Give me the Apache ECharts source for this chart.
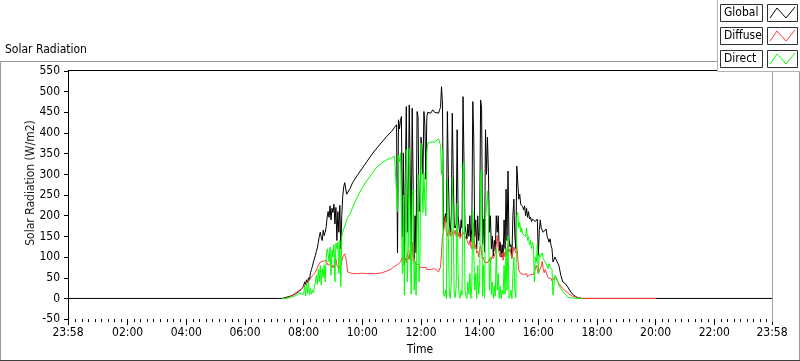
<!DOCTYPE html>
<html lang="en">
<head>
    <meta charset="UTF-8">
    <title>Solar Radiation</title>
    <script src="https://cdn.jsdelivr.net/npm/echarts@6/dist/echarts.min.js"></script>
    <style>
        html, body { margin: 0; padding: 0; background: #fff; }
        #chart { width: 800px; height: 361px; }
    </style>
</head>
<body>
<div id="chart"></div>
<script>
    // minutes after midnight (-2 is 23:58 of the day before)
    var times = [
        -2, 430, 436, 442, 448, 454, 460, 466, 472, 476,
        480, 482, 484, 486, 488, 490, 492, 494, 496, 498,
        500, 504, 506, 508, 510, 512, 514, 516, 518, 520,
        522, 524, 526, 528, 530, 532, 534, 536, 538, 540,
        542, 544, 546, 548, 550, 552, 554, 556, 558, 560,
        562, 564, 566, 568, 570, 575, 580, 590, 600, 610,
        620, 630, 640, 650, 660, 666, 670, 672, 674, 676,
        678, 680, 682, 684, 686, 688, 690, 692, 694, 696,
        698, 700, 702, 704, 706, 708, 710, 712, 714, 716,
        718, 720, 722, 724, 726, 728, 730, 732, 734, 736,
        740, 744, 748, 752, 756, 758, 760, 762, 764, 766,
        768, 770, 772, 774, 776, 778, 780, 782, 784, 786,
        788, 790, 792, 794, 796, 798, 800, 802, 804, 806,
        808, 810, 812, 814, 816, 818, 820, 822, 824, 826,
        828, 830, 832, 834, 836, 838, 840, 842, 844, 846,
        848, 850, 852, 854, 856, 858, 860, 862, 864, 866,
        868, 870, 872, 874, 876, 878, 880, 882, 884, 886,
        888, 890, 892, 894, 896, 898, 900, 902, 904, 906,
        908, 910, 912, 914, 916, 918, 920, 922, 924, 926,
        928, 930, 932, 934, 936, 938, 940, 942, 944, 946,
        948, 950, 952, 954, 956, 958, 960, 962, 964, 966,
        968, 970, 972, 974, 976, 978, 980, 982, 984, 986,
        988, 990, 994, 998, 1002, 1006, 1010, 1015, 1020, 1025,
        1030, 1036, 1042, 1050, 1100, 1150, 1200, 1438
    ];
    var globalRad = [
        0, 0, 0, 2, 4, 6, 9, 13, 18, 24,
        30, 40, 34, 45, 38, 50, 44, 62, 70, 78,
        88, 104, 114, 122, 135, 150, 160, 148, 140, 165,
        152, 160, 172, 195, 210, 196, 224, 190, 218, 208,
        228, 180, 220, 140, 210, 160, 225, 120, 200, 248,
        270, 280, 276, 252, 256, 266, 280, 298, 315, 332,
        349, 364, 378, 392, 404, 414, 420, 110, 432, 410,
        430, 440, 150, 352, 80, 300, 464, 160, 250, 468,
        300, 120, 460, 456, 96, 200, 110, 452, 440, 210,
        224, 390, 368, 300, 452, 420, 288, 440, 450, 452,
        448, 456, 450, 452, 448, 456, 462, 512, 470, 165,
        190, 205, 184, 452, 300, 184, 160, 200, 448, 300,
        176, 170, 180, 408, 200, 170, 150, 190, 170, 488,
        492, 176, 160, 144, 180, 150, 200, 136, 170, 476,
        388, 150, 190, 120, 200, 140, 160, 480, 460, 130,
        192, 112, 408, 300, 390, 304, 160, 200, 120, 151,
        103, 140, 115, 200, 160, 200, 115, 136, 100, 130,
        100, 190, 120, 264, 140, 308, 144, 125, 130, 100,
        200, 240, 150, 120, 320, 324, 240, 252, 228, 230,
        222, 214, 224, 200, 218, 196, 210, 192, 197, 186,
        192, 190, 192, 186, 190, 192, 104, 164, 190, 170,
        168, 160, 164, 164, 168, 150, 144, 136, 144, 128,
        120, 88, 100, 100, 80, 56, 40, 36, 28, 18,
        10, 5, 1, 0, 0, 0, 0, 0
    ];
    var diffuseRad = [
        null, null, 0, 0, 2, 6, 10, 15, 20, 24,
        28, 30, 32, 36, 38, 42, 44, 48, 52, 55,
        58, 64, 68, 74, 80, 84, 88, 86, 88, 90,
        88, 90, 92, 88, 80, 84, 78, 86, 82, 74,
        80, 88, 96, 80, 76, 72, 74, 80, 84, 100,
        104, 108, 100, 84, 64, 62, 60, 60, 61, 60,
        60, 60, 62, 66, 72, 78, 80, 82, 84, 86,
        88, 90, 100, 96, 92, 98, 86, 110, 100, 94,
        120, 110, 136, 90, 96, 84, 80, 88, 82, 80,
        76, 78, 72, 74, 70, 72, 76, 70, 70, 68,
        70, 70, 72, 70, 64, 64, 76, 110, 150, 160,
        180, 196, 160, 150, 165, 160, 150, 168, 160, 150,
        158, 165, 150, 170, 150, 160, 145, 155, 150, 160,
        158, 150, 145, 140, 136, 130, 140, 125, 120, 184,
        170, 120, 130, 110, 115, 100, 120, 128, 110, 95,
        100, 88, 92, 88, 86, 90, 95, 88, 92, 104,
        96, 100, 110, 130, 152, 120, 110, 100, 96, 110,
        92, 112, 100, 120, 104, 130, 112, 120, 108, 96,
        110, 124, 116, 110, 128, 126, 68, 64, 60, 58,
        56, 58, 54, 56, 60, 52, 54, 56, 58, 55,
        60, 58, 64, 62, 80, 70, 60, 66, 62, 78,
        90, 72, 62, 70, 64, 60, 50, 54, 50, 48,
        42, 40, 52, 44, 36, 30, 24, 18, 14, 9,
        5, 3, 1, 0, 0, 0, 0, null
    ];
    var directRad = [
        null, null, 0, 0, 1, 3, 5, 8, 12, 16,
        10, 30, 6, 36, 12, 40, 8, 24, 10, 20,
        14, 40, 56, 34, 70, 40, 80, 32, 72, 50,
        80, 40, 96, 120, 108, 88, 124, 56, 118, 100,
        130, 40, 134, 120, 136, 60, 140, 29, 150, 160,
        168, 172, 180, 190, 196, 204, 220, 246, 268, 286,
        302, 318, 328, 335, 340, 344, 346, 210, 346, 330,
        352, 356, 60, 250, 8, 180, 360, 40, 120, 364,
        150, 10, 250, 264, 20, 90, 8, 10, 300, 40,
        100, 376, 290, 208, 304, 230, 200, 352, 376, 380,
        378, 380, 378, 382, 386, 384, 370, 300, 360, 10,
        5, 20, 0, 288, 150, 10, 0, 40, 290, 180,
        10, 2, 30, 230, 60, 5, 0, 20, 8, 324,
        330, 20, 5, 0, 40, 10, 60, 0, 30, 212,
        210, 20, 60, 0, 80, 10, 40, 300, 312, 5,
        80, 0, 192, 220, 260, 200, 20, 100, 10, 40,
        0, 30, 5, 120, 20, 60, 0, 30, 0, 20,
        10, 80, 10, 120, 20, 152, 0, 5, 20, 0,
        60, 100, 20, 2, 200, 208, 170, 184, 160, 170,
        156, 152, 160, 150, 170, 140, 150, 130, 140, 120,
        136, 128, 40, 100, 88, 130, 60, 108, 100, 96,
        110, 96, 100, 92, 84, 80, 72, 84, 76, 78,
        70, 8, 56, 48, 32, 24, 16, 10, 4, 2,
        1, 0, 0, 0, null, null, null, null
    ];
    var seriesNames = ['Global', 'Diffuse', 'Direct'];
    var seriesColors = ['#000000', '#ff3b3b', '#00ff00'];
    // labelled ticks on the time scale
    var timeLabels = [-2, 120, 240, 360, 480, 600, 720, 840, 960, 1080, 1200, 1320, 1438];

    var FONT = 'Tahoma, "DejaVu Sans Condensed", "Liberation Sans", sans-serif';

    // small ticks: nine steps between labels
    var minorTicks = [];
    for (var k = 1; k < 108; k++) {
        if (k % 9 !== 0) minorTicks.push(k * 120 / 9);
    }

    function pairs(vals) {
        return times.map(function (t, i) {
            return [t, vals[i] === null ? '-' : vals[i]];
        });
    }

    function pad(n) {
        return (n < 10 ? '0' : '') + n;
    }

    function timeText(v) {
        var m = Math.round((v + 1440) % 1440);
        return pad(Math.floor(m / 60)) + ':' + pad(m % 60);
    }

    var chart = echarts.init(document.getElementById('chart'));

    // legend boxes, LabVIEW style
    var legendItems = [];
    seriesNames.forEach(function (name, i) {
        var y0 = 4 + i * 23;
        legendItems.push({
            type: 'rect', shape: { x: 720.5, y: y0 + 0.5, width: 42, height: 17 },
            style: { fill: '#fff', stroke: '#303030', lineWidth: 1 }, z: 101
        });
        legendItems.push({
            type: 'text', x: 724, y: y0 + 9,
            style: { text: name, font: '12px ' + FONT, fill: '#000', verticalAlign: 'middle' }, z: 102
        });
        legendItems.push({
            type: 'rect', shape: { x: 767.5, y: y0 + 0.5, width: 30, height: 17 },
            style: { fill: '#fff', stroke: '#303030', lineWidth: 1 }, z: 101
        });
        legendItems.push({
            type: 'polyline',
            shape: { points: [[770, y0 + 14], [777, y0 + 4], [786, y0 + 14], [795, y0 + 3]] },
            style: { stroke: seriesColors[i], lineWidth: 1, fill: null }, z: 102
        });
    });

    var option = {
        animation: false,
        backgroundColor: '#fff',
        grid: { left: 68, top: 71, width: 704, height: 251, containLabel: false },
        xAxis: [{
            type: 'value',
            min: -2,
            max: 1438,
            axisLine: { show: false, onZero: false },
            axisTick: {
                show: true, length: 6, customValues: timeLabels,
                lineStyle: { color: '#000', width: 1 }
            },
            axisLabel: {
                customValues: timeLabels, margin: 8,
                color: '#000', fontSize: 12, fontFamily: FONT,
                formatter: timeText
            },
            splitLine: { show: false },
            name: 'Time',
            nameLocation: 'middle',
            nameGap: 23,
            nameTextStyle: { color: '#000', fontSize: 12, fontFamily: FONT }
        }, {
            type: 'value',
            gridIndex: 0,
            position: 'bottom',
            min: -2,
            max: 1438,
            axisLine: { show: false, onZero: false },
            axisTick: {
                show: true, length: 3, customValues: minorTicks,
                lineStyle: { color: '#000', width: 1 }
            },
            axisLabel: { show: false },
            splitLine: { show: false }
        }],
        yAxis: {
            type: 'value',
            min: -50,
            max: 550,
            interval: 50,
            axisLine: { show: true, onZero: false, lineStyle: { color: '#000', width: 1 } },
            axisTick: { show: true, length: 4, lineStyle: { color: '#000' } },
            axisLabel: { color: '#000', fontSize: 12, fontFamily: FONT, margin: 8 },
            splitLine: { show: false }
        },
        series: [globalRad, diffuseRad, directRad].map(function (vals, i) {
            return {
                name: seriesNames[i],
                type: 'line',
                data: pairs(vals),
                showSymbol: false,
                symbol: 'none',
                connectNulls: false,
                lineStyle: { color: seriesColors[i], width: 1 },
                itemStyle: { color: seriesColors[i] },
                emphasis: { disabled: true },
                z: 2 + i
            };
        }),
        graphic: [
            // outer frame of the graph
            {
                type: 'rect', shape: { x: 0.5, y: 61.5, width: 799, height: 299 },
                style: { fill: null, stroke: '#9a9a9a', lineWidth: 1 }, z: 0
            },
            {
                type: 'line', shape: { x1: 0, y1: 360.5, x2: 800, y2: 360.5 },
                style: { stroke: '#404040', lineWidth: 1 }, z: 1
            },
            // plot frame top and right
            {
                type: 'line', shape: { x1: 68, y1: 70.5, x2: 772, y2: 70.5 },
                style: { stroke: '#000', lineWidth: 1 }, z: 1
            },
            {
                type: 'line', shape: { x1: 772.5, y1: 71, x2: 772.5, y2: 322 },
                style: { stroke: '#a0a0a0', lineWidth: 1 }, z: 1
            },
            {
                type: 'text', x: 5, y: 50,
                style: { text: 'Solar Radiation', font: '12px ' + FONT, fill: '#000', verticalAlign: 'middle' }
            },
            {
                type: 'text', x: 31, y: 183, rotation: Math.PI / 2,
                style: {
                    text: 'Solar Radiation (W/m2)', font: '12px ' + FONT, fill: '#1a1a1a',
                    align: 'center', verticalAlign: 'middle'
                }
            },
            // legend panel
            {
                type: 'rect', shape: { x: 717.5, y: -1, width: 84, height: 72.5 },
                style: { fill: '#fff', stroke: '#b4b4b4', lineWidth: 1 }, z: 100
            }
        ].concat(legendItems)
    };
    chart.setOption(option);
</script>
</body>
</html>
